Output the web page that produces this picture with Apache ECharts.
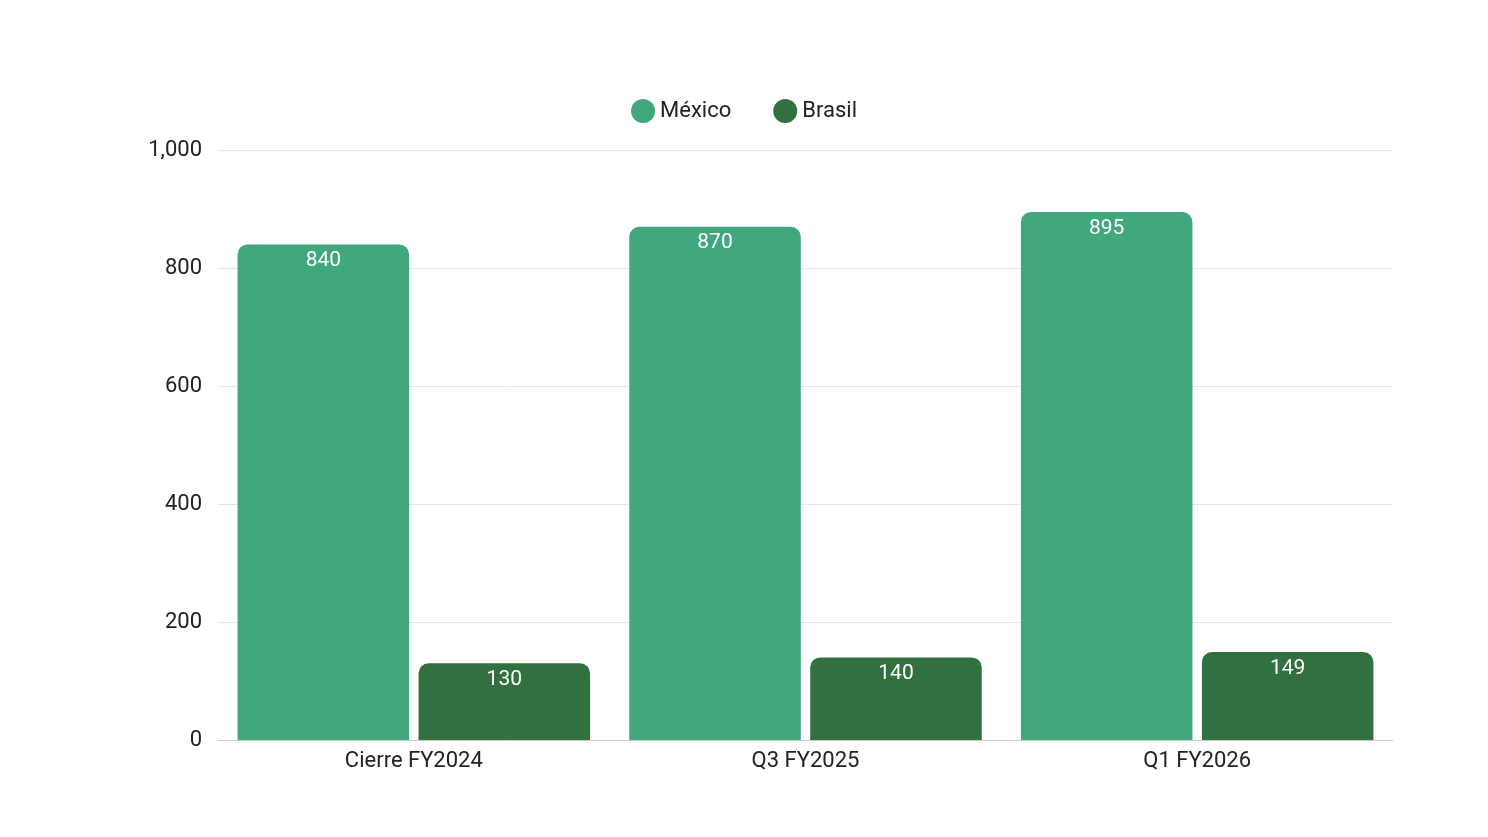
<!DOCTYPE html>
<html>
<head>
<meta charset="UTF-8">
<script src="https://cdn.jsdelivr.net/npm/echarts@6/dist/echarts.min.js"></script>
<style>html,body{margin:0;background:#fff}#chart{width:1488px;height:837px}</style>
</head>
<body>
<div id="chart"></div>
<script>
var categories = ['Cierre FY2024', 'Q3 FY2025', 'Q1 FY2026'];
var mexico = [840, 870, 895];
var brasil = [130, 140, 149];

var chart = echarts.init(document.getElementById('chart'));
var label = {show: true, position: 'insideTop', color: '#fff', fontSize: 21, fontFamily: 'Roboto', distance: 6};
chart.setOption({
  legend: {
    top: 94, left: 'center', icon: 'circle', itemWidth: 24, itemHeight: 24, itemGap: 42,
    textStyle: {fontSize: 22, color: '#222', fontFamily: 'Roboto'}
  },
  grid: {left: 218, right: 95, top: 150, bottom: 97},
  xAxis: {
    type: 'category', data: categories,
    axisTick: {show: false},
    axisLine: {lineStyle: {color: '#ccc'}},
    axisLabel: {fontSize: 22, color: '#222', fontFamily: 'Roboto', margin: 10}
  },
  yAxis: {
    type: 'value', min: 0, max: 1000, interval: 200,
    axisLabel: {fontSize: 22, color: '#222', fontFamily: 'Roboto', margin: 16},
    splitLine: {lineStyle: {color: '#e6e6e6'}}
  },
  series: [
    {name: 'México', type: 'bar', data: mexico, barGap: '5.5%', barCategoryGap: '10%',
     itemStyle: {color: '#41a87d', borderRadius: [10, 10, 0, 0]}, label: label},
    {name: 'Brasil', type: 'bar', data: brasil,
     itemStyle: {color: '#33703f', borderRadius: [10, 10, 0, 0]}, label: label}
  ]
});
</script>
</body>
</html>
